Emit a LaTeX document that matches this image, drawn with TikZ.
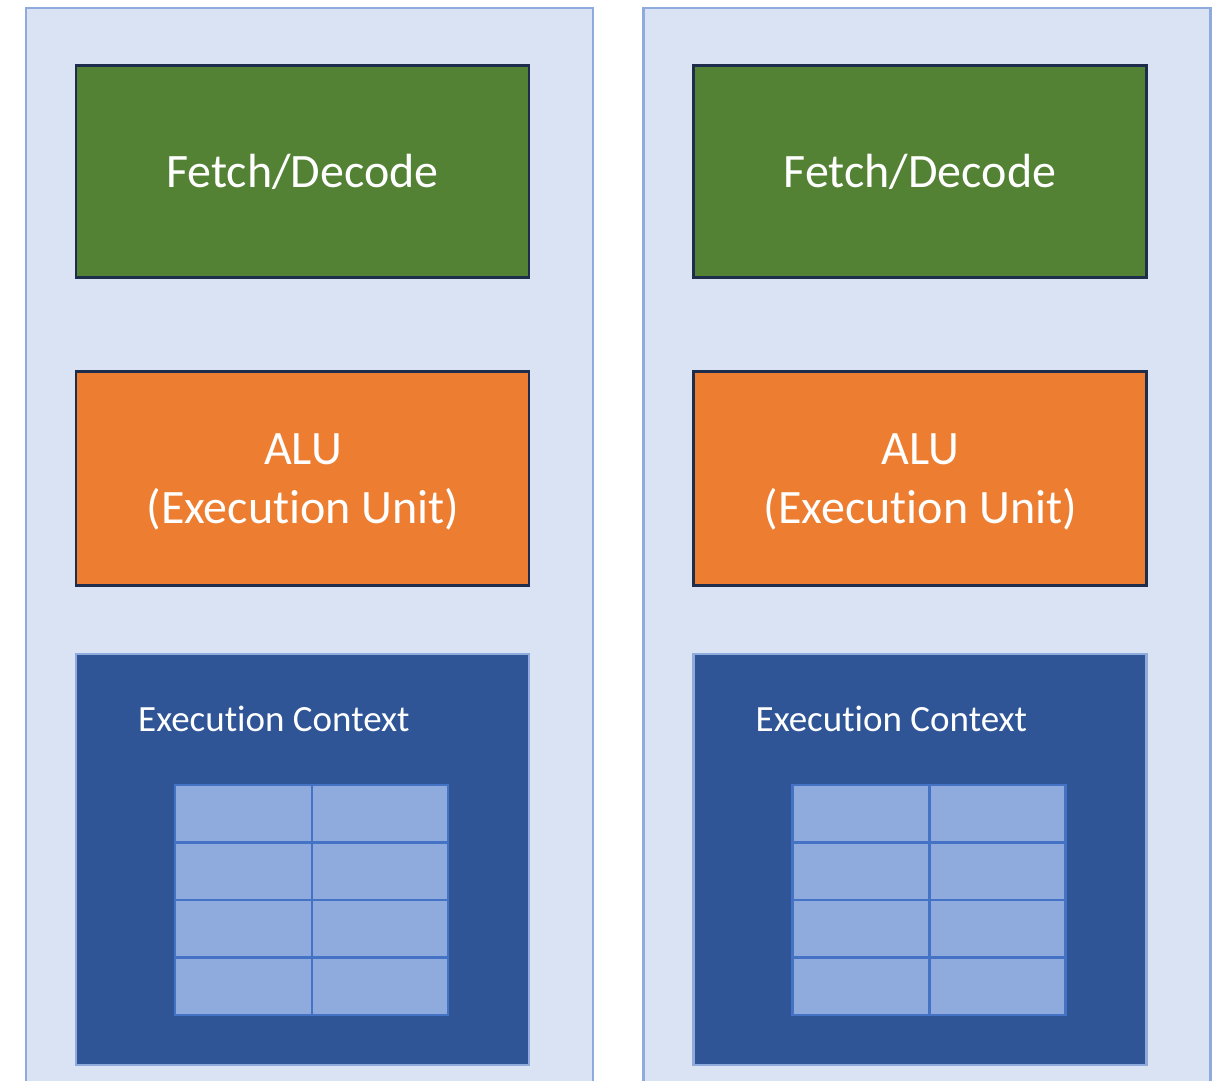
\documentclass[tikz,border=0pt]{standalone}
\usepackage{fontspec}
\setmainfont{Carlito}[Ligatures={NoCommon}]
\definecolor{panelfill}{HTML}{DAE3F3}
\definecolor{panelline}{HTML}{8FAADC}
\definecolor{fetchfill}{HTML}{548235}
\definecolor{alufill}{HTML}{ED7D31}
\definecolor{darkline}{HTML}{1F2D4D}
\definecolor{ctxfill}{HTML}{2F5597}
\definecolor{regfill}{HTML}{8FAADC}
\definecolor{regline}{HTML}{4472C4}
\tikzset{
  panel/.style={fill=panelfill, draw=panelline, line width=2.5pt},
  unitbox/.style={draw=darkline, line width=2.5pt, text=white, font=\fontsize{48}{59}\selectfont, align=center},
  fetchbox/.style={unitbox, fill=fetchfill},
  alubox/.style={unitbox, fill=alufill},
  unittext/.style={text=white, font=\fontsize{48}{59}\selectfont, align=center, inner sep=0pt},
  ctxbox/.style={fill=ctxfill, draw=panelline, line width=2.5pt},
  ctxlabel/.style={text=white, font=\fontsize{37}{44}\selectfont, anchor=base west, inner sep=0pt},
  regcell/.style={fill=regfill, draw=regline, line width=2.5pt}
}
\begin{document}
\begin{tikzpicture}[x=1pt, y=-1pt]
\useasboundingbox (0,0) rectangle (1224,1081);
\clip (0,0) rectangle (1224,1081);
\foreach \dx/\n in {0/L, 617.5/R} {
  \begin{scope}[xshift=\dx pt]
    % core panel
    \path[panel] (26,8) rectangle (593,1100);
    % fetch/decode unit
    \node[fetchbox, minimum width=453pt, minimum height=212pt] (fetch\n) at (302.5,171.5) {Fetch/Decode};
    % execution unit
    \node[alubox, minimum width=453pt, minimum height=214pt] (alu\n) at (302.5,478.5) {};
    \node[unittext] (alutext\n) at (303,482) {ALU\\(Execution Unit)};
    % execution context with register file
    \node[ctxbox, minimum width=453pt, minimum height=411pt] (ctx\n) at (302.5,859.5) {};
    \node[ctxlabel] (ctxlabel\n) at (138,731) {Execution Context};
    \foreach \r in {0,1,2,3} {
      \foreach \c in {0,1} {
        \path[regcell] ({175+\c*137},{785+\r*57.5}) rectangle ({312+\c*136},{842.5+\r*57.5});
      }
    }
  \end{scope}
}
\end{tikzpicture}
\end{document}
